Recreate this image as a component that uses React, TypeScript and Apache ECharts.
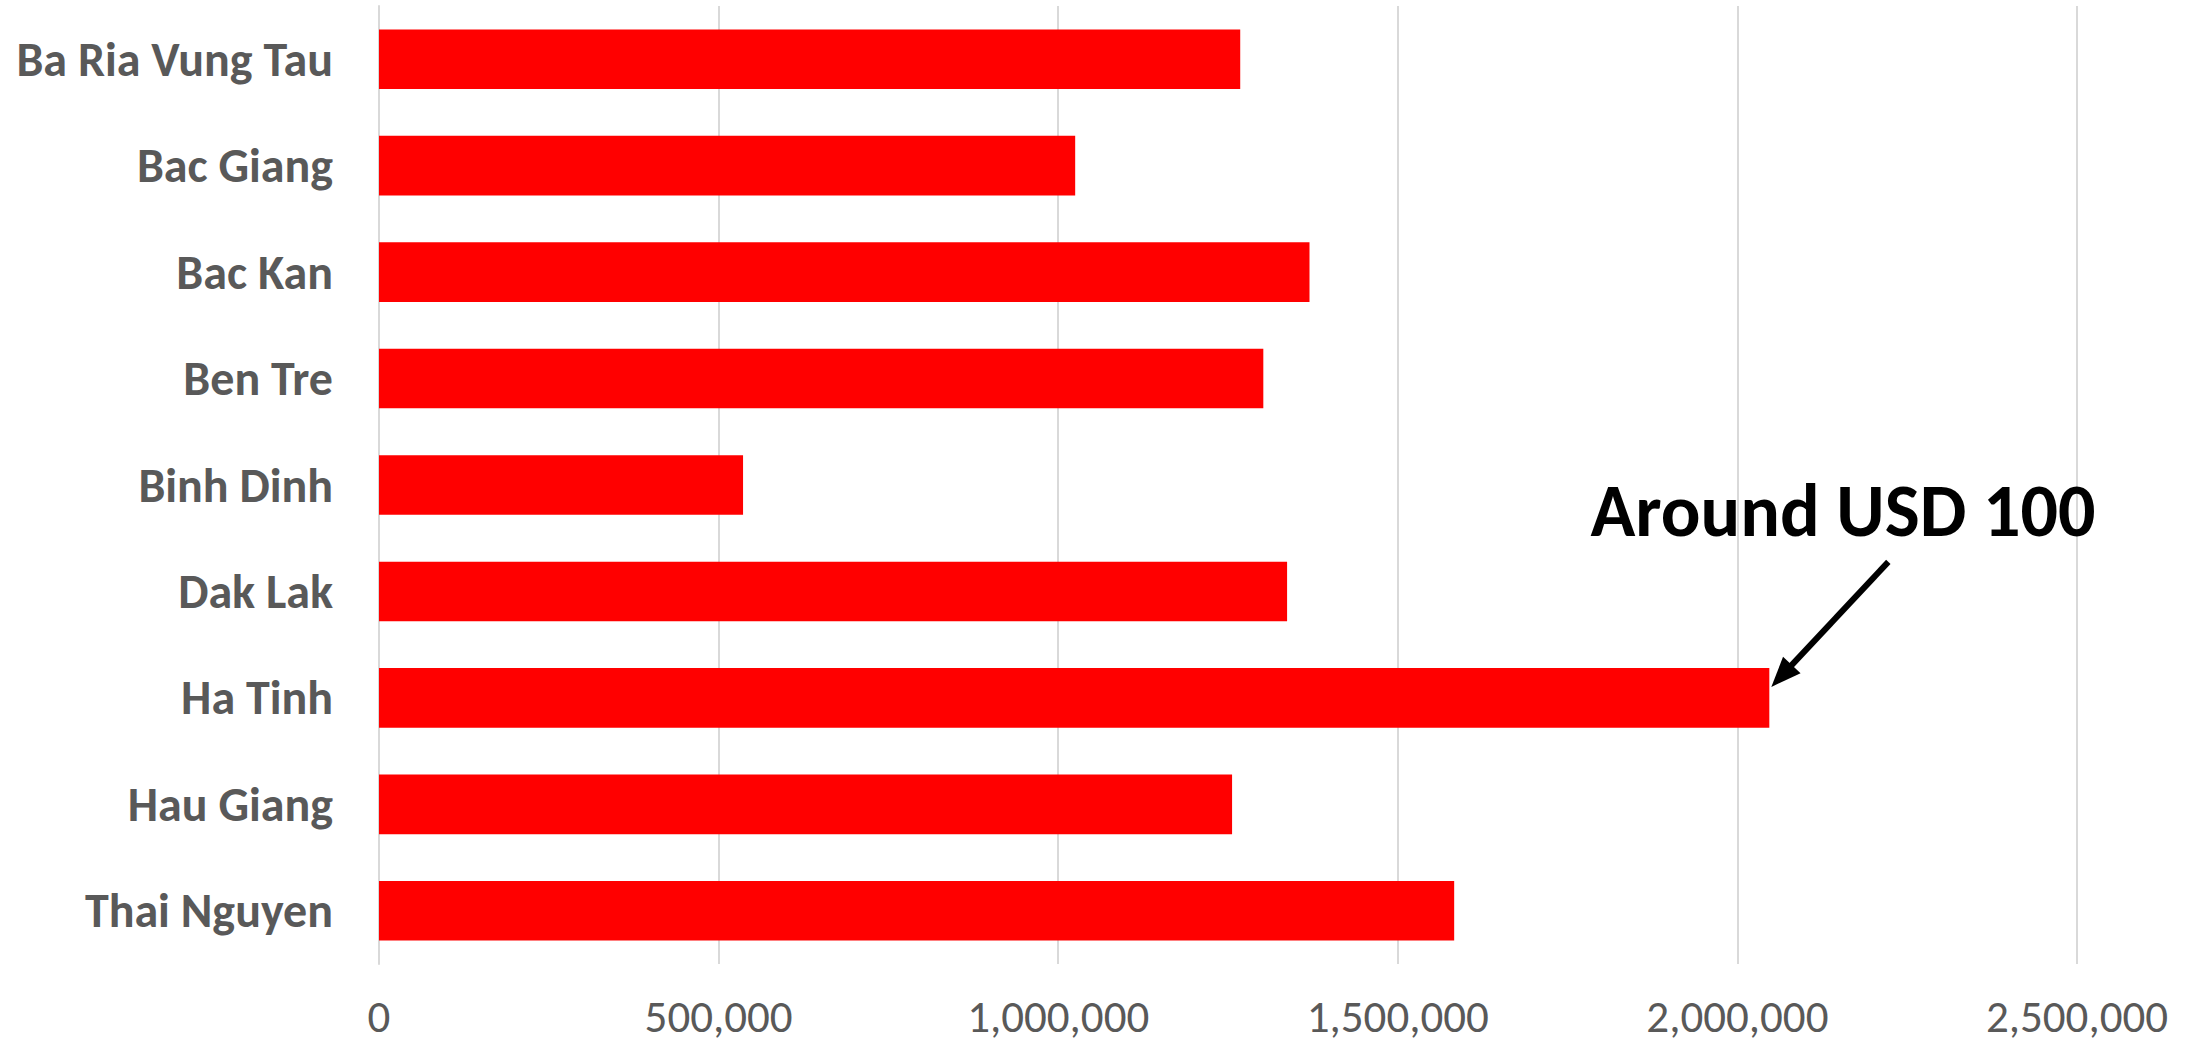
import React, { useEffect, useRef } from "react";
import * as echarts from "echarts";

const categories = [
  "Ba Ria Vung Tau",
  "Bac Giang",
  "Bac Kan",
  "Ben Tre",
  "Binh Dinh",
  "Dak Lak",
  "Ha Tinh",
  "Hau Giang",
  "Thai Nguyen",
];
const values = [1268000, 1025000, 1370000, 1302000, 536000, 1337000, 2047000, 1256000, 1583000];
const annotationText = "Around USD 100";
const annotatedCategory = "Ha Tinh";

const FONT = "Carlito, 'Liberation Sans Narrow', Lato, sans-serif";

export default function App() {
  const ref = useRef<HTMLDivElement>(null);
  useEffect(() => {
    if (!ref.current) return;
    const chart = echarts.init(ref.current, undefined, { renderer: "svg" });
    chart.setOption({
      animation: false,
      backgroundColor: "#ffffff",
      grid: { left: 379, right: 121, top: 6, bottom: 84, containLabel: false },
      xAxis: {
        type: "value",
        min: 0,
        max: 2500000,
        interval: 500000,
        axisLine: { show: false },
        axisTick: { show: false },
        splitLine: { lineStyle: { color: "#d9d9d9", width: 2 } },
        axisLabel: {
          color: "#595959",
          fontFamily: FONT,
          fontSize: 45,
          lineHeight: 38,
          margin: 33,
          formatter: (v: number) => v.toLocaleString("en-US"),
        },
      },
      yAxis: {
        type: "category",
        data: categories,
        inverse: true,
        axisLine: { show: true, lineStyle: { color: "#d9d9d9", width: 2 } },
        axisTick: { show: false },
        axisLabel: {
          color: "#595959",
          fontFamily: FONT,
          fontWeight: "bold",
          fontSize: 48,
          margin: 46,
        },
      },
      series: [
        {
          type: "bar",
          data: values,
          barCategoryGap: "44%",
          itemStyle: { color: "#ff0000" },
        },
      ],
    });
    const idx = categories.indexOf(annotatedCategory);
    const tip = chart.convertToPixel({ seriesIndex: 0 }, [values[idx], idx]) as number[];
    const tx = tip[0] + 2;
    const ty = tip[1] - 11;
    const sx = tx + 117;
    const sy = ty - 125;
    const len = Math.hypot(tx - sx, ty - sy);
    const ux = (tx - sx) / len;
    const uy = (ty - sy) / len;
    const headL = 30;
    const headW = 12;
    const bx = tx - headL * ux;
    const by = ty - headL * uy;
    const nx = -uy;
    const ny = ux;
    chart.setOption({
      graphic: [
        {
          type: "line",
          shape: { x1: sx, y1: sy, x2: bx + 4 * ux, y2: by + 4 * uy },
          style: { stroke: "#000000", lineWidth: 6 },
        },
        {
          type: "polygon",
          shape: {
            points: [
              [tx, ty],
              [bx + headW * nx, by + headW * ny],
              [bx - headW * nx, by - headW * ny],
            ],
          },
          style: { fill: "#000000" },
        },
        {
          type: "text",
          x: 1843,
          y: 511,
          style: {
            text: annotationText,
            fill: "#000000",
            font: `bold 74px ${FONT}`,
            textAlign: "center",
            textVerticalAlign: "middle",
          },
        },
      ],
    });
    return () => chart.dispose();
  }, []);
  return (
    <div
      ref={ref}
      style={{ position: "absolute", left: 0, top: 0, width: 2198, height: 1048 }}
    />
  );
}
